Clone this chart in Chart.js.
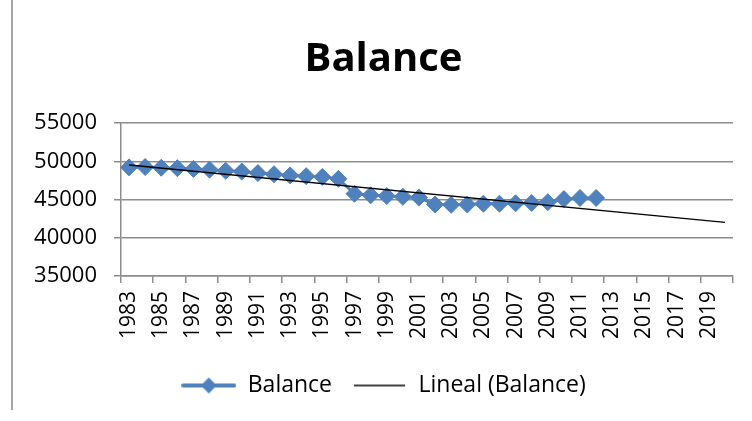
<!DOCTYPE html>
<html>
<head>
<meta charset="utf-8">
<script src="https://cdn.jsdelivr.net/npm/chart.js@4.4.1/dist/chart.umd.min.js"></script>
<style>
  body { margin: 0; background: #fff; }
  #wrap { position: relative; width: 752px; height: 421px; }
  #borde { position: absolute; left: 11px; top: 0; height: 410px; border-left: 2px solid #a6a6a6; }
</style>
</head>
<body>
<div id="wrap">
  <canvas id="chartBalance" width="752" height="421"></canvas>
  <div id="borde"></div>
</div>
<script>
const anios = [];
for (let a = 1983; a <= 2020; a++) anios.push(String(a));

// valores, 1983 a 2012
const balance = [49200, 49250, 49150, 49100, 49000, 48900, 48750, 48650, 48450, 48300,
                 48150, 48050, 47950, 47700, 45750, 45550, 45450, 45350, 45250, 44350,
                 44300, 44350, 44450, 44450, 44500, 44550, 44650, 45050, 45200, 45200];

// linea de tendencia: extremos leidos (1983 y 2020)
const tendencia = [49520];
for (let i = 1; i < anios.length - 1; i++) tendencia.push(null);
tendencia.push(42010);

const ticksY = [35000, 40000, 45000, 50000, 55000];

const azul = '#4F81BD';
const gris = '#8c8c8c';
const margenIzq = 34;

function iconoBalance() {
  const c = document.createElement('canvas');
  c.width = 55; c.height = 18;
  const g = c.getContext('2d');
  g.strokeStyle = azul; g.lineWidth = 4; g.lineCap = 'round';
  g.beginPath(); g.moveTo(2, 9); g.lineTo(53, 9); g.stroke();
  g.fillStyle = azul;
  g.beginPath(); g.moveTo(27.5, 1); g.lineTo(35.5, 9); g.lineTo(27.5, 17); g.lineTo(19.5, 9); g.closePath(); g.fill();
  return c;
}

function iconoLineal() {
  const c = document.createElement('canvas');
  c.width = 55; c.height = 18;
  const g = c.getContext('2d');
  g.strokeStyle = '#000'; g.lineWidth = 1.5;
  g.beginPath(); g.moveTo(2, 9); g.lineTo(53, 9); g.stroke();
  return c;
}

const ctx = document.getElementById("chartBalance").getContext("2d");
new Chart(ctx, {
  type: 'line',
  data: {
    labels: anios,
    datasets: [
      {
        label: 'Balance',
        data: balance,
        borderColor: azul,
        borderWidth: 3,
        pointStyle: 'rectRot',
        pointRadius: 8.5,
        pointBackgroundColor: azul,
        pointBorderColor: azul,
        pointBorderWidth: 1,
        order: 2
      },
      {
        label: 'Lineal (Balance)',
        data: tendencia,
        borderColor: '#000',
        borderWidth: 1.5,
        pointRadius: 0,
        spanGaps: true,
        order: 1
      }
    ]
  },
  options: {
    responsive: false,
    animation: false,
    layout: { padding: { left: margenIzq, right: 19, top: 0, bottom: 14 } },
    plugins: {
      tooltip: { enabled: false },
      title: {
        display: true,
        text: 'Balance',
        color: '#000',
        font: { family: 'Open Sans', size: 40, weight: 'bold' },
        padding: { top: 36, bottom: 39 }
      },
      legend: {
        position: 'bottom',
        labels: {
          usePointStyle: true,
          pointStyleWidth: 55,
          color: '#000',
          font: { family: 'Open Sans', size: 23 },
          padding: 20,
          generateLabels: () => [
            { text: 'Balance', pointStyle: iconoBalance(), fillStyle: azul, strokeStyle: azul, lineWidth: 0, datasetIndex: 0 },
            { text: 'Lineal (Balance)', pointStyle: iconoLineal(), fillStyle: '#000', strokeStyle: '#000', lineWidth: 0, datasetIndex: 1 }
          ]
        }
      }
    },
    scales: {
      x: {
        offset: true,
        afterFit: s => { s.height = 78; s.paddingLeft = 0; s.paddingRight = 0; },
        grid: {
          offset: true,
          drawOnChartArea: false,
          tickLength: 7,
          lineWidth: 1.5,
          color: c => (c.index === undefined || c.index % 2 === 0) ? gris : 'rgba(0,0,0,0)'
        },
        border: { color: gris, width: 1.5 },
        ticks: {
          autoSkip: false,
          minRotation: 90,
          maxRotation: 90,
          padding: 8,
          color: '#000',
          font: { family: 'Open Sans', size: 21 },
          callback: (v, i) => i % 2 === 0 ? anios[i] : ''
        }
      },
      y: {
        min: 35000,
        max: 55000,
        afterFit: s => { s.width = 121 - margenIzq; s.paddingTop = 0; s.paddingBottom = 0; },
        afterBuildTicks: s => { s.ticks = ticksY.map(v => ({ value: v })); },
        grid: { color: gris, lineWidth: 1.5, tickLength: 7 },
        border: { color: gris, width: 1.5 },
        ticks: {
          padding: 17,
          color: '#000',
          font: { family: 'Open Sans', size: 22 },
          callback: v => String(v)
        }
      }
    }
  }
});
</script>
</body>
</html>
